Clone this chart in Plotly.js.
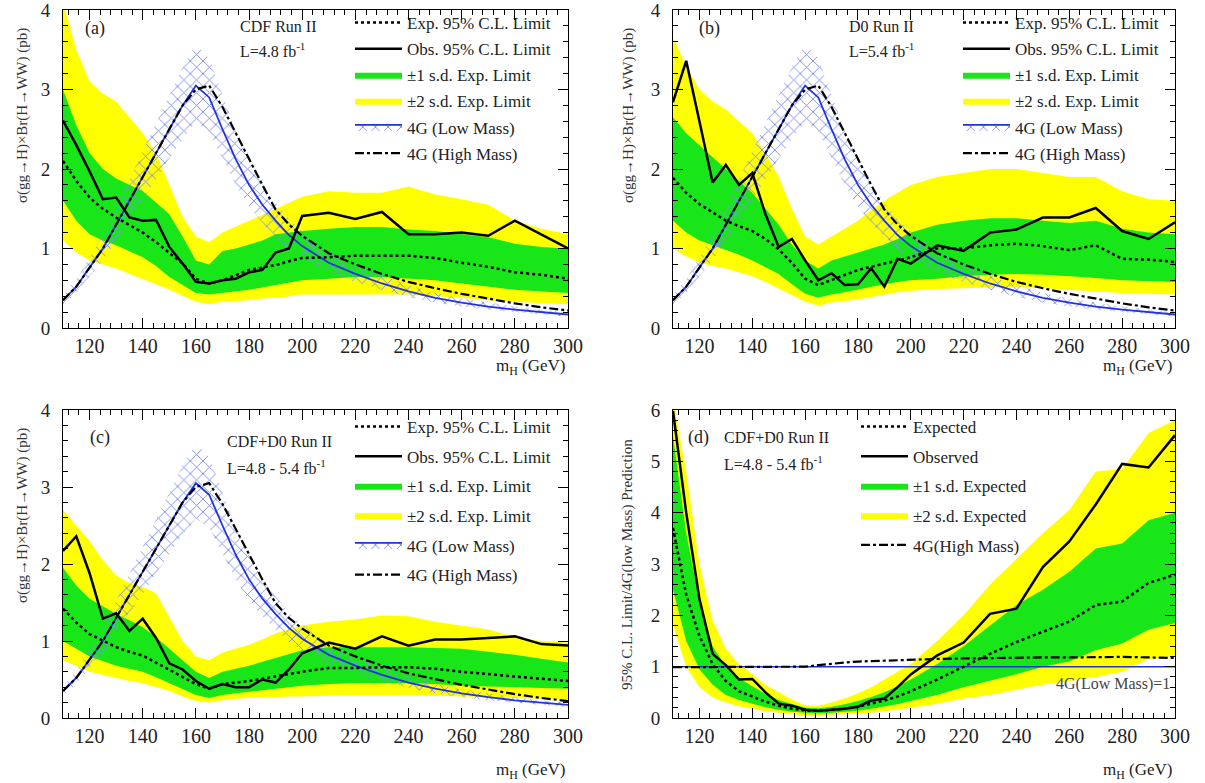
<!DOCTYPE html>
<html>
<head>
<meta charset="utf-8">
<script src="https://cdn.plot.ly/plotly-3.0.1.min.js"></script>
<style>html,body{margin:0;padding:0;background:#fff;}#chart{width:1205px;height:783px;}</style>
</head>
<body>
<div id="chart"></div>
<script>
// ---------------- DATA ----------------
const mass = [110,115,120,125,130,135,140,145,150,155,160,165,170,175,180,185,190,195,200,210,220,230,240,250,260,270,280,290,300];

// 4G theory predictions (pb), shared by panels a, b, c
const lowMass  = [0.35,0.52,0.76,1.00,1.30,1.60,1.90,2.20,2.50,2.80,3.05,2.90,2.50,2.12,1.80,1.55,1.35,1.17,1.03,0.82,0.68,0.56,0.46,0.38,0.32,0.27,0.23,0.20,0.17];
const lowUp    = [0.41,0.61,0.89,1.17,1.52,1.87,2.22,2.57,2.93,3.28,3.57,3.39,2.93,2.48,2.11,1.81,1.58,1.37,1.21,0.96,0.80,0.66,0.54,0.44,0.37,0.32,0.27,0.23,0.20];
const lowDn    = [0.30,0.44,0.65,0.85,1.10,1.36,1.62,1.87,2.13,2.38,2.59,2.47,2.13,1.80,1.53,1.32,1.15,0.99,0.88,0.70,0.58,0.48,0.39,0.32,0.27,0.23,0.20,0.17,0.14];
const highMass = [0.35,0.52,0.76,1.00,1.30,1.60,1.90,2.20,2.50,2.80,3.00,3.05,2.78,2.45,2.12,1.80,1.49,1.30,1.16,0.94,0.80,0.68,0.58,0.50,0.43,0.37,0.31,0.26,0.22];

// Panel (a) CDF
const obsA  = [2.61,2.30,1.97,1.62,1.64,1.39,1.35,1.36,1.02,0.81,0.58,0.56,0.60,0.62,0.70,0.73,0.95,1.00,1.41,1.45,1.37,1.46,1.18,1.18,1.20,1.16,1.35,1.18,1.00];
const expA  = [2.10,1.85,1.64,1.50,1.39,1.29,1.20,1.08,0.95,0.81,0.62,0.56,0.60,0.66,0.73,0.76,0.79,0.84,0.88,0.89,0.91,0.91,0.91,0.88,0.82,0.77,0.70,0.67,0.62];
const s1upA = [3.00,2.55,2.20,2.00,1.88,1.80,1.72,1.58,1.43,1.15,0.85,0.80,0.97,1.00,1.05,1.10,1.18,1.20,1.22,1.25,1.27,1.27,1.24,1.22,1.18,1.14,1.06,1.02,1.00];
const s1loA = [1.60,1.35,1.18,1.10,1.04,0.96,0.89,0.78,0.64,0.54,0.44,0.42,0.44,0.46,0.48,0.51,0.54,0.57,0.60,0.62,0.64,0.64,0.62,0.60,0.56,0.52,0.48,0.46,0.44];
const s2upA = [4.10,3.50,3.10,2.95,2.85,2.65,2.45,2.20,1.80,1.40,1.15,1.08,1.20,1.28,1.35,1.42,1.50,1.58,1.65,1.72,1.70,1.70,1.78,1.68,1.62,1.55,1.35,1.25,1.18];
const s2loA = [1.10,0.95,0.85,0.80,0.75,0.68,0.62,0.55,0.48,0.40,0.33,0.30,0.33,0.34,0.35,0.37,0.38,0.40,0.42,0.42,0.42,0.42,0.42,0.40,0.38,0.35,0.33,0.31,0.30];

// Panel (b) D0
const obsB  = [2.84,3.36,2.60,1.83,2.05,1.80,1.95,1.43,1.02,1.12,0.85,0.60,0.69,0.54,0.55,0.75,0.52,0.87,0.81,1.04,0.97,1.20,1.24,1.39,1.39,1.51,1.22,1.12,1.33];
const expB  = [1.89,1.70,1.56,1.45,1.35,1.28,1.22,1.12,0.99,0.82,0.62,0.54,0.60,0.66,0.73,0.77,0.81,0.85,0.89,1.00,1.00,1.04,1.06,1.03,0.98,1.04,0.87,0.86,0.83];
const s1upB = [2.65,2.45,2.30,2.15,2.00,1.85,1.70,1.50,1.30,1.05,0.85,0.75,0.85,0.90,0.95,1.00,1.05,1.12,1.20,1.30,1.35,1.38,1.38,1.35,1.32,1.35,1.25,1.20,1.18];
const s1loB = [1.35,1.20,1.10,1.04,0.98,0.92,0.85,0.77,0.68,0.55,0.43,0.38,0.42,0.45,0.48,0.52,0.55,0.58,0.60,0.62,0.65,0.67,0.68,0.67,0.65,0.63,0.60,0.59,0.58];
const s2upB = [3.65,3.30,3.00,2.85,2.75,2.60,2.45,2.20,1.90,1.50,1.15,1.05,1.15,1.25,1.35,1.48,1.60,1.70,1.80,1.90,1.95,2.00,2.00,1.95,1.90,1.90,1.72,1.62,1.60];
const s2loB = [1.00,0.90,0.82,0.78,0.75,0.70,0.65,0.58,0.50,0.42,0.33,0.28,0.32,0.34,0.36,0.39,0.42,0.45,0.47,0.49,0.50,0.51,0.52,0.50,0.48,0.46,0.44,0.43,0.42];

// Panel (c) CDF+D0
const obsC  = [2.17,2.36,1.88,1.29,1.36,1.13,1.29,1.04,0.71,0.63,0.48,0.38,0.44,0.40,0.40,0.50,0.46,0.63,0.84,0.98,0.90,1.06,0.94,1.02,1.02,1.04,1.06,0.96,0.94];
const expC  = [1.42,1.24,1.09,1.00,0.92,0.86,0.81,0.72,0.63,0.54,0.44,0.38,0.44,0.46,0.48,0.51,0.54,0.57,0.60,0.65,0.65,0.66,0.66,0.64,0.60,0.57,0.54,0.51,0.48];
const s1upC = [1.95,1.72,1.55,1.45,1.35,1.27,1.18,1.05,0.90,0.75,0.60,0.52,0.60,0.64,0.68,0.73,0.78,0.83,0.88,0.92,0.92,0.92,0.92,0.91,0.90,0.86,0.82,0.77,0.72];
const s1loC = [1.00,0.90,0.80,0.74,0.68,0.64,0.60,0.53,0.45,0.38,0.30,0.26,0.30,0.32,0.34,0.36,0.38,0.40,0.42,0.44,0.45,0.45,0.45,0.44,0.42,0.41,0.40,0.39,0.38];
const s2upC = [2.70,2.50,2.30,2.05,1.85,1.75,1.70,1.62,1.30,1.00,0.80,0.75,0.85,0.90,0.95,1.02,1.10,1.15,1.20,1.25,1.28,1.33,1.32,1.25,1.20,1.15,1.05,1.00,0.98];
const s2loC = [0.75,0.67,0.60,0.56,0.52,0.48,0.45,0.40,0.35,0.28,0.22,0.20,0.23,0.25,0.26,0.27,0.27,0.28,0.28,0.29,0.30,0.30,0.30,0.29,0.28,0.27,0.26,0.25,0.24];

// Panel (d) ratio to 4G(low mass)
const obsD  = [5.98,4.00,2.32,1.25,1.03,0.75,0.76,0.50,0.28,0.24,0.16,0.14,0.16,0.18,0.22,0.34,0.38,0.60,0.85,1.22,1.47,2.03,2.13,2.94,3.44,4.16,4.95,4.88,5.51];
const expD  = [3.70,2.40,1.60,1.05,0.72,0.52,0.42,0.32,0.24,0.18,0.15,0.14,0.16,0.18,0.22,0.28,0.34,0.42,0.52,0.75,1.00,1.25,1.48,1.68,1.88,2.20,2.27,2.63,2.79];
const s1upD = [5.50,3.60,2.30,1.40,1.00,0.78,0.62,0.47,0.35,0.27,0.20,0.19,0.22,0.27,0.33,0.41,0.50,0.62,0.75,1.05,1.40,1.80,2.20,2.50,2.85,3.30,3.40,3.85,4.00];
const s1loD = [2.50,1.50,0.95,0.65,0.45,0.35,0.28,0.21,0.16,0.12,0.10,0.09,0.10,0.12,0.14,0.18,0.22,0.27,0.33,0.45,0.60,0.72,0.85,1.00,1.10,1.32,1.45,1.72,1.85];
const s2upD = [6.20,4.80,3.00,1.90,1.35,1.05,0.85,0.65,0.50,0.36,0.25,0.24,0.30,0.38,0.48,0.60,0.75,0.90,1.05,1.50,2.00,2.60,3.10,3.60,4.05,4.80,4.85,5.55,5.80];
const s2loD = [1.80,1.00,0.60,0.40,0.30,0.23,0.18,0.13,0.10,0.07,0.05,0.05,0.06,0.07,0.08,0.10,0.13,0.16,0.20,0.28,0.38,0.45,0.55,0.65,0.72,0.80,0.90,1.15,1.20];
const highD = [0.99,0.99,0.99,0.99,0.99,0.99,0.99,0.99,0.99,0.99,1.00,1.03,1.06,1.08,1.10,1.11,1.12,1.12,1.13,1.15,1.16,1.17,1.18,1.18,1.18,1.19,1.19,1.18,1.17];
const lowRefX = [110,300];
const lowRefY = [1,1];

// ---------------- STYLE ----------------
const FONT = 'Liberation Serif, Times New Roman, serif';
const YEL = '#ffff00', GRN = '#19e619', BLUE = '#2233dd';
const hatch = {shape:'x', fgcolor:'#7f8ef0', bgcolor:'rgba(255,255,255,0)', size:9, solidity:0.2};

function bandTraces(xa, ya, lg, lo, up, color, name, rank){
  return [
    {x:mass, y:lo, xaxis:xa, yaxis:ya, mode:'lines', line:{width:0, color:color}, showlegend:false, hoverinfo:'skip', legendgroup:lg+'g'+rank},
    {x:mass, y:up, xaxis:xa, yaxis:ya, mode:'lines', line:{width:0, color:color}, fill:'tonexty', fillcolor:color,
     name:name, legend:lg, legendrank:rank, legendgroup:lg+'g'+rank, hoverinfo:'skip'}
  ];
}
function panelTraces(xa, ya, lg, obs, exp, s1u, s1l, s2u, s2l){
  let t = [];
  t = t.concat(bandTraces(xa, ya, lg, s2l, s2u, YEL, '±2 s.d. Exp. Limit', 4));
  t = t.concat(bandTraces(xa, ya, lg, s1l, s1u, GRN, '±1 s.d. Exp. Limit', 3));
  t.push({x:mass, y:lowDn, xaxis:xa, yaxis:ya, mode:'lines', line:{width:0}, showlegend:false, hoverinfo:'skip', legendgroup:lg+'g5'});
  t.push({x:mass, y:lowMass, xaxis:xa, yaxis:ya, mode:'lines', line:{width:1.8, color:BLUE}, fill:'tonexty',
          fillcolor:'rgba(255,255,255,0)', fillpattern:hatch, name:'4G (Low Mass)', legend:lg, legendrank:5, legendgroup:lg+'g5'});
  t.push({x:mass, y:lowUp, xaxis:xa, yaxis:ya, mode:'lines', line:{width:0}, fill:'tonexty',
          fillcolor:'rgba(255,255,255,0)', fillpattern:hatch, showlegend:false, hoverinfo:'skip', legendgroup:lg+'g5'});
  t.push({x:mass, y:highMass, xaxis:xa, yaxis:ya, mode:'lines', line:{width:2.2, color:'#000', dash:'dashdot'},
          name:'4G (High Mass)', legend:lg, legendrank:6, legendgroup:lg+'g6'});
  t.push({x:mass, y:exp, xaxis:xa, yaxis:ya, mode:'lines', line:{width:2.5, color:'#000', dash:'dot'},
          name:'Exp. 95% C.L. Limit', legend:lg, legendrank:1, legendgroup:lg+'g1'});
  t.push({x:mass, y:obs, xaxis:xa, yaxis:ya, mode:'lines', line:{width:2.5, color:'#000'},
          name:'Obs. 95% C.L. Limit', legend:lg, legendrank:2, legendgroup:lg+'g2'});
  return t;
}

let traces = [];
traces = traces.concat(panelTraces('x','y','legend', obsA, expA, s1upA, s1loA, s2upA, s2loA));
traces = traces.concat(panelTraces('x2','y2','legend2', obsB, expB, s1upB, s1loB, s2upB, s2loB));
traces = traces.concat(panelTraces('x3','y3','legend3', obsC, expC, s1upC, s1loC, s2upC, s2loC));
// panel d
traces = traces.concat(bandTraces('x4','y4','legend4', s2loD, s2upD, YEL, '±2 s.d. Expected', 4));
traces = traces.concat(bandTraces('x4','y4','legend4', s1loD, s1upD, GRN, '±1 s.d. Expected', 3));
traces.push({x:lowRefX, y:lowRefY, xaxis:'x4', yaxis:'y4', mode:'lines', line:{width:1.5, color:BLUE}, showlegend:false});
traces.push({x:mass, y:highD, xaxis:'x4', yaxis:'y4', mode:'lines', line:{width:2.2, color:'#000', dash:'dashdot'}, name:'4G(High Mass)', legend:'legend4', legendrank:5, legendgroup:'d5'});
traces.push({x:mass, y:expD, xaxis:'x4', yaxis:'y4', mode:'lines', line:{width:2.5, color:'#000', dash:'dot'}, name:'Expected', legend:'legend4', legendrank:1, legendgroup:'d1'});
traces.push({x:mass, y:obsD, xaxis:'x4', yaxis:'y4', mode:'lines', line:{width:2.5, color:'#000'}, name:'Observed', legend:'legend4', legendrank:2, legendgroup:'d2'});

const W = 1205, H = 783;
const px = v => v / W, py = v => 1 - v / H;

function xax(d0, d1, anchor){
  return {domain:[px(d0), px(d1)], anchor:anchor, range:[110,300], tick0:100, dtick:20,
    ticks:'inside', ticklen:10, tickcolor:'#000', tickwidth:1, showline:true, linecolor:'#000', linewidth:1,
    mirror:'ticks', showgrid:false, zeroline:false, ticklabeloverflow:'allow',
    tickfont:{family:FONT, size:20, color:'#222'},
    minor:{tick0:100, dtick:4, ticks:'inside', ticklen:5, tickcolor:'#000', showgrid:false}};
}
function yax(t0, t1, anchor, top){
  return {domain:[py(t1), py(t0)], anchor:anchor, range:[0, top], tick0:0, dtick:1,
    ticks:'inside', ticklen:10, tickcolor:'#000', tickwidth:1, showline:true, linecolor:'#000', linewidth:1,
    mirror:'ticks', showgrid:false, zeroline:false, ticklabelstandoff:8, ticklabeloverflow:'allow',
    tickfont:{family:FONT, size:19, color:'#222'},
    minor:{tick0:0, dtick:0.2, ticks:'inside', ticklen:5, tickcolor:'#000', showgrid:false}};
}
function leg(x, y, gap){
  return {x:px(x), y:py(y), xanchor:'left', yanchor:'top', bgcolor:'rgba(0,0,0,0)', borderwidth:0,
    font:{family:FONT, size:17, color:'#222'}, itemwidth:47, traceorder:'grouped', tracegroupgap:gap};
}
function ann(text, x, y, size, xanchor, extra){
  return Object.assign({text:text, x:px(x), y:py(y), xref:'paper', yref:'paper', showarrow:false,
    xanchor:xanchor || 'left', yanchor:'middle', font:{family:FONT, size:size, color:'#222'}}, extra || {});
}

const ytitle = 'σ(gg→H)×Br(H→WW) (pb)';
const layout = {
  width:W, height:H, margin:{l:0, r:0, t:0, b:0}, paper_bgcolor:'#fff', plot_bgcolor:'#fff',
  xaxis:xax(63, 568, 'y'), yaxis:yax(10, 328, 'x', 4),
  xaxis2:xax(673, 1175, 'y2'), yaxis2:yax(10, 328, 'x2', 4),
  xaxis3:xax(63, 568, 'y3'), yaxis3:yax(410, 718, 'x3', 4),
  xaxis4:xax(673, 1175, 'y4'), yaxis4:yax(410, 718, 'x4', 6),
  legend:leg(350, 5, 1), legend2:leg(958, 5, 1), legend3:leg(350, 409, 4.5), legend4:leg(856, 409, 4.5),
  annotations:[
    ann('(a)', 83, 28, 18), ann('CDF Run II', 238, 27, 16), ann('L=4.8 fb<sup>-1</sup>', 238, 50, 16),
    ann('(b)', 697, 28, 18), ann('D0 Run II', 847, 27, 16), ann('L=5.4 fb<sup>-1</sup>', 847, 50, 16),
    ann('(c)', 88, 437, 18), ann('CDF+D0 Run II', 225, 441, 16), ann('L=4.8 - 5.4 fb<sup>-1</sup>', 225, 467, 16),
    ann('(d)', 686, 437, 18), ann('CDF+D0 Run II', 722, 437, 16), ann('L=4.8 - 5.4 fb<sup>-1</sup>', 722, 463, 16),
    ann('4G(Low Mass)=1', 1172, 684, 16, 'right', {font:{family:FONT, size:16, color:'#444'}}),
    ann('m<sub>H</sub> (GeV)', 568, 367, 17, 'right'), ann('m<sub>H</sub> (GeV)', 1175, 367, 17, 'right'),
    ann('m<sub>H</sub> (GeV)', 568, 771, 17, 'right'), ann('m<sub>H</sub> (GeV)', 1175, 771, 17, 'right'),
    ann(ytitle, 22, 116, 15, 'center', {textangle:-90, font:{family:FONT, size:15, color:'#333'}}),
    ann(ytitle, 628, 116, 15, 'center', {textangle:-90, font:{family:FONT, size:15, color:'#333'}}),
    ann(ytitle, 22, 516, 15, 'center', {textangle:-90, font:{family:FONT, size:15, color:'#333'}}),
    ann('95% C.L. Limit/4G(low Mass) Prediction', 627, 565, 15, 'center', {textangle:-90, font:{family:FONT, size:15, color:'#333'}})
  ]
};

Plotly.newPlot('chart', traces, layout, {staticPlot:true, displayModeBar:false});
</script>
</body>
</html>
